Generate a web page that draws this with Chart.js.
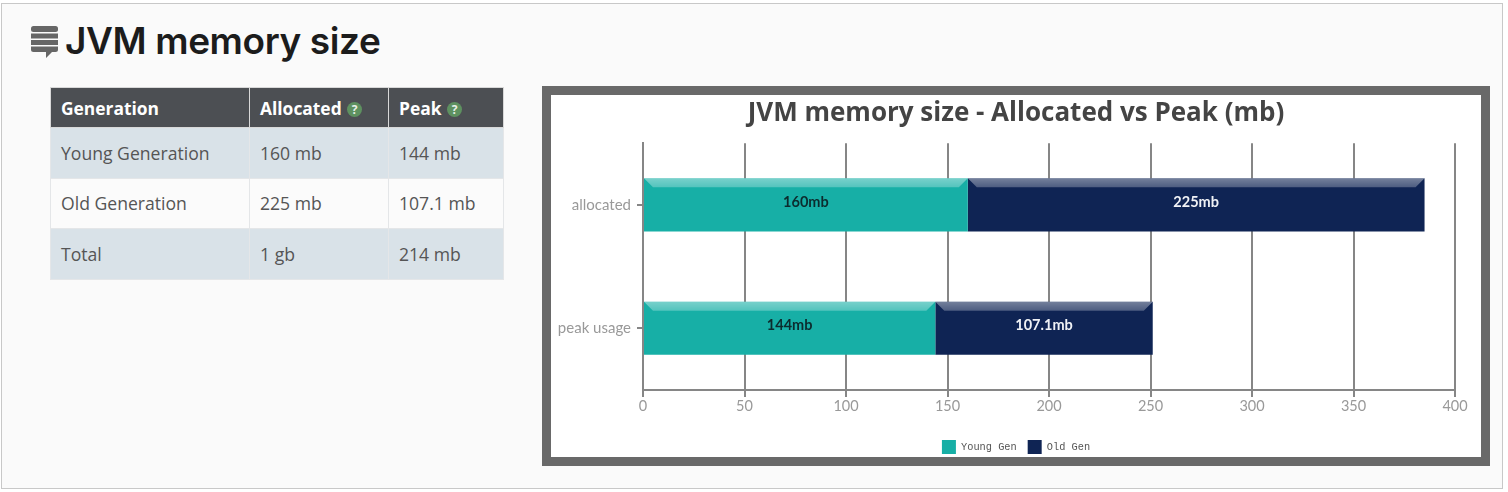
<!DOCTYPE html>
<html>
<head>
<meta charset="utf-8">
<title>JVM memory size</title>
<script src="https://cdn.jsdelivr.net/npm/chart.js@4"></script>
<style>
    html, body { margin: 0; padding: 0; background: #fff; }
    body { width: 1508px; height: 492px; position: relative; overflow: hidden; font-family: "Open Sans", sans-serif; }
    .panel { position: absolute; left: 1px; top: 3px; width: 1500px; height: 484px; background: #fafafa; border: 1px solid #c8c8c8; }
    .stack-icon { position: absolute; left: 31px; top: 26px; width: 27px; height: 32px; }
    h1 { position: absolute; left: 65px; top: 17px; margin: 0; font-family: "Inter", sans-serif; font-weight: 600; font-size: 37px; line-height: 48px; color: #1c1c1c; letter-spacing: -0.4px; white-space: nowrap; }
    table { position: absolute; left: 50px; top: 87px; width: 453px; border-collapse: collapse; table-layout: fixed; font-size: 17.6px; color: #555; }
    th { background: #4c4f53; color: #fff; text-align: left; font-weight: 700; font-size: 17.4px; height: 39px; padding: 0 0 0 10px; border: 1px solid #d8d8d8; }
    td { height: 49.5px; padding: 0 0 0 10px; border: 1px solid #e4e6e8; }
    tr.odd td { background: #d9e2e8; }
    tr.even td { background: #fbfbfb; }
    .help { display: inline-block; width: 15px; height: 15px; border-radius: 50%; background: #5e9160; color: #e8efe8; font-size: 12px; line-height: 15px; text-align: center; vertical-align: 1px; margin-left: 1px; }
    .chart-box { position: absolute; left: 542px; top: 86px; width: 930px; height: 362px; border: 9px solid #696969; background: #fff; }
    canvas { display: block; }
</style>
</head>
<body>
<div class="panel"></div>
<svg class="stack-icon" viewBox="0 0 27 32">
    <rect x="0" y="0" width="27" height="6" rx="2.5" fill="#666"/>
    <rect x="0" y="7.5" width="27" height="5" fill="#666"/>
    <rect x="0" y="14" width="27" height="5" fill="#666"/>
    <path d="M0 20.5h27v3a2.5 2.5 0 0 1-2.5 2.5H21l-6 6v-6H2.5A2.5 2.5 0 0 1 0 23.500z" fill="#666"/>
</svg>
<h1>JVM memory size</h1>
<table>
    <colgroup><col style="width:199px"><col style="width:139px"><col style="width:115px"></colgroup>
    <tr><th>Generation</th><th>Allocated <span class="help">?</span></th><th>Peak <span class="help">?</span></th></tr>
    <tr class="odd"><td>Young Generation</td><td>160 mb</td><td>144 mb</td></tr>
    <tr class="even"><td>Old Generation</td><td>225 mb</td><td>107.1 mb</td></tr>
    <tr class="odd"><td>Total</td><td>1 gb</td><td>214 mb</td></tr>
</table>
<div class="chart-box"><canvas id="memoryChart" width="930" height="362"></canvas></div>

<script>
const categories = ['allocated', 'peak usage'];
const youngGen = [160, 144];
const oldGen = [225, 107.1];
const tickStep = 50;
const axisMax = 400;

const gridColor = '#868686';
const labelColor = '#999999';

// top bevel on every bar, the corners are cut like a picture frame
const bevelPlugin = {
    id: 'bevel',
    afterDatasetsDraw(chart) {
        const ctx = chart.ctx;
        const bevel = 9;
        chart.data.datasets.forEach((dataset, i) => {
            chart.getDatasetMeta(i).data.forEach(bar => {
                const left = Math.min(bar.base, bar.x);
                const right = Math.max(bar.base, bar.x);
                const top = bar.y - bar.height / 2;
                const gradient = ctx.createLinearGradient(0, top, 0, top + bevel);
                gradient.addColorStop(0, 'rgba(255,255,255,0.42)');
                gradient.addColorStop(1, 'rgba(255,255,255,0.26)');
                ctx.save();
                ctx.beginPath();
                ctx.moveTo(left, top);
                ctx.lineTo(right, top);
                ctx.lineTo(right - bevel, top + bevel);
                ctx.lineTo(left + bevel, top + bevel);
                ctx.closePath();
                ctx.fillStyle = gradient;
                ctx.fill();
                ctx.restore();
            });
        });
    }
};

// value text in the middle of every bar
const barLabelPlugin = {
    id: 'barLabel',
    afterDatasetsDraw(chart) {
        const ctx = chart.ctx;
        chart.data.datasets.forEach((dataset, i) => {
            chart.getDatasetMeta(i).data.forEach((bar, index) => {
                ctx.save();
                ctx.font = '700 14.5px Lato';
                ctx.fillStyle = dataset.labelColor;
                ctx.textAlign = 'center';
                ctx.textBaseline = 'middle';
                ctx.fillText(dataset.data[index] + 'mb', (bar.base + bar.x) / 2, bar.y - 3);
                ctx.restore();
            });
        });
    }
};

new Chart(document.getElementById('memoryChart'), {
    type: 'bar',
    data: {
        labels: categories,
        datasets: [
            {
                label: 'Young Gen',
                data: youngGen,
                backgroundColor: '#17afa6',
                borderColor: '#6fd0c9',
                borderWidth: 0,
                labelColor: '#0c2c2e'
            },
            {
                label: 'Old Gen',
                data: oldGen,
                backgroundColor: '#0f2454',
                borderColor: '#5d6b8e',
                borderWidth: 0,
                labelColor: '#f0f2f6'
            }
        ]
    },
    plugins: [bevelPlugin, barLabelPlugin],
    options: {
        indexAxis: 'y',
        responsive: false,
        animation: false,
        barPercentage: 0.43,
        categoryPercentage: 1,
        layout: { padding: { left: 0, right: 0, top: 0, bottom: -7 } },
        scales: {
            x: {
                stacked: true,
                min: 0,
                max: axisMax,
                ticks: {
                    stepSize: tickStep,
                    color: labelColor,
                    padding: 1,
                    font: { family: 'Lato', size: 14.5 }
                },
                grid: { color: gridColor, lineWidth: 2, tickLength: 7 },
                border: { color: gridColor, width: 2 },
                afterFit(scale) {
                    scale.height = 39;
                    scale.paddingRight = 26;
                }
            },
            y: {
                stacked: true,
                ticks: {
                    color: labelColor,
                    padding: 6,
                    font: { family: 'Lato', size: 15 }
                },
                grid: { offset: false, drawOnChartArea: false, color: gridColor, lineWidth: 2, tickLength: 6 },
                border: { color: gridColor, width: 2 },
                afterFit(scale) { scale.width = 92; }
            }
        },
        plugins: {
            title: {
                display: true,
                text: 'JVM memory size - Allocated vs Peak (mb)',
                color: '#444444',
                font: { family: 'Open Sans', size: 26, weight: '700' },
                padding: { top: 3, bottom: 14 }
            },
            legend: {
                position: 'bottom',
                labels: {
                    boxWidth: 14,
                    boxHeight: 14,
                    padding: 11,
                    color: '#555555',
                    font: { family: 'Liberation Mono', size: 10.3 }
                }
            },
            tooltip: { enabled: false }
        }
    }
});
</script>
</body>
</html>
